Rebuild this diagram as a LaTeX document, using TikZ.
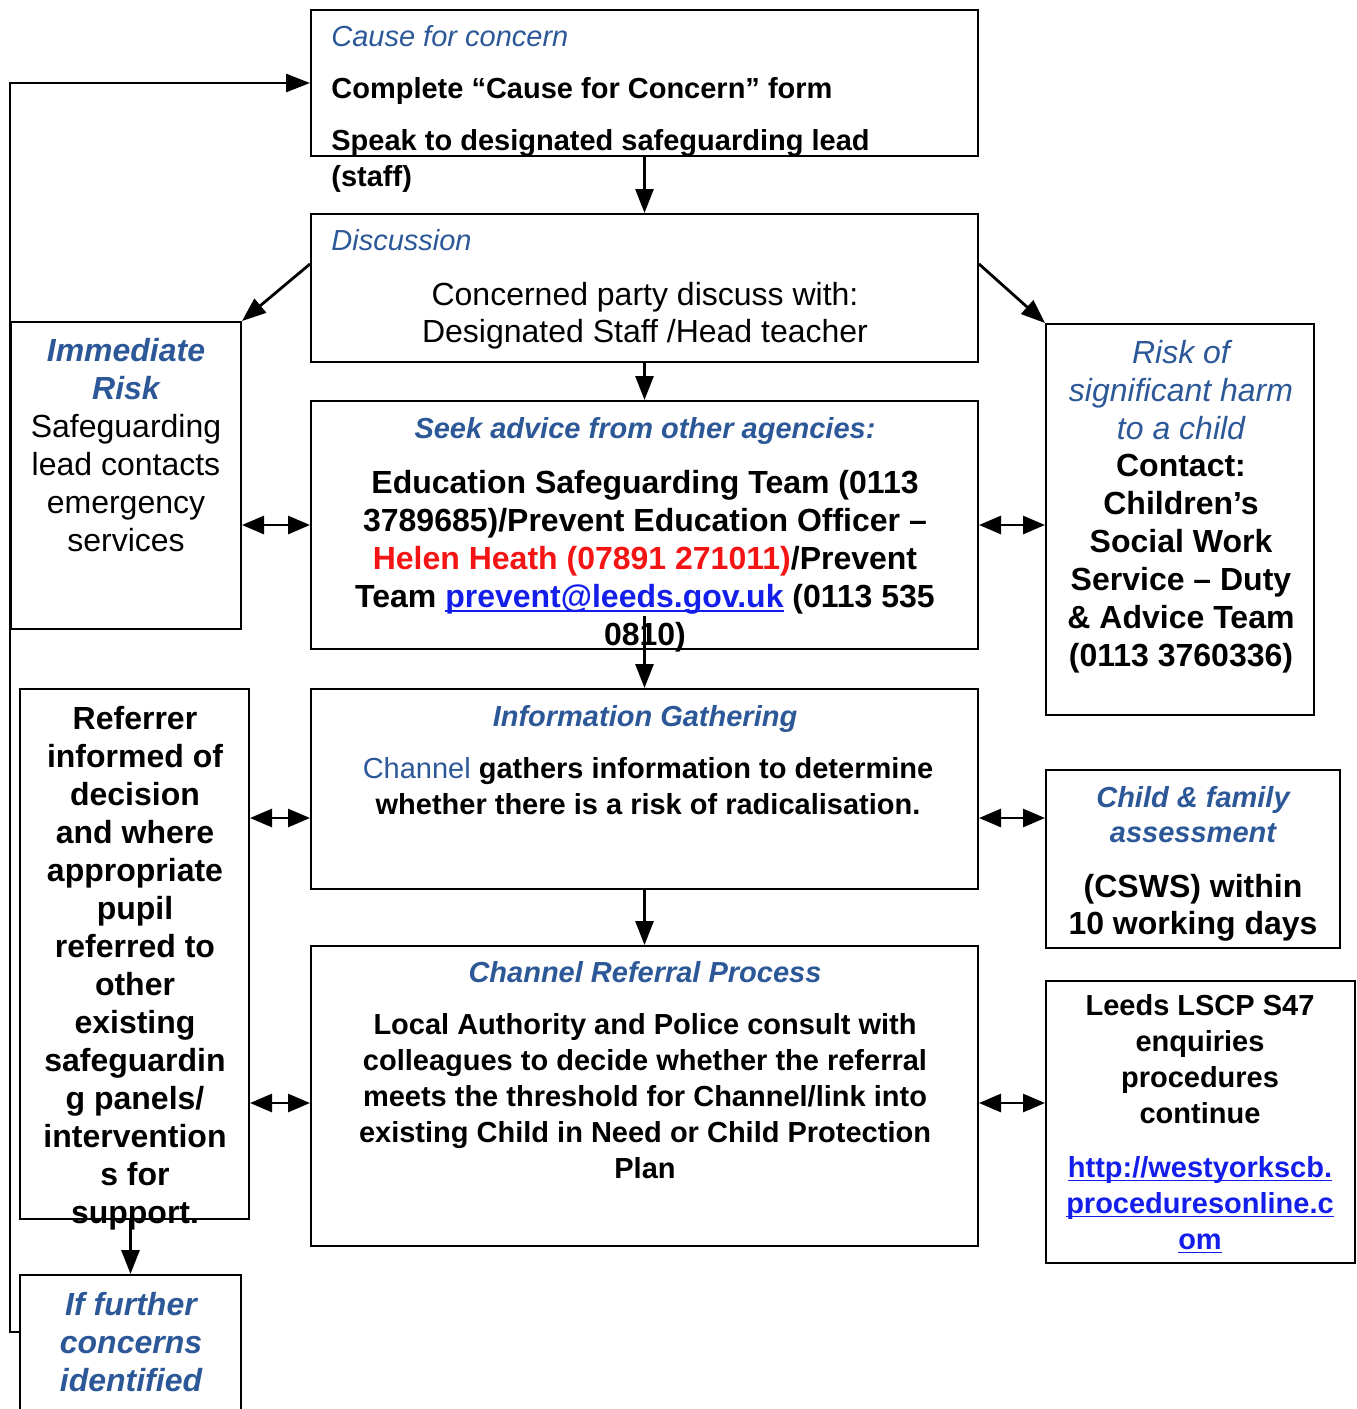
\documentclass[tikz,border=0pt]{standalone}
\usepackage{fontspec}
\setmainfont{Liberation Sans}
\usetikzlibrary{arrows.meta,fit}
\definecolor{headblue}{RGB}{44,88,152}
\definecolor{linkblue}{RGB}{20,30,235}
\definecolor{alertred}{RGB}{245,20,20}
\newcommand\weblink[1]{\setbox0\hbox{#1}\rlap{\rule[-2pt]{\wd0}{0.9pt}}\box0}

\begin{document}
\begin{tikzpicture}[x=0.5pt,y=-0.5pt,
    panel/.style={draw,line width=1pt,inner sep=0pt},
    flow/.style={line width=1.4pt,-{Triangle[length=12pt,width=9pt]}},
    dflow/.style={line width=1.4pt,{Triangle[length=11pt,width=9pt]}-{Triangle[length=11pt,width=9pt]}},
    txt/.style={inner sep=0pt,align=center,anchor=north},
    bigf/.style={txt,font=\fontsize{16}{19}\selectfont #1},
    bigf/.default={},
    smf/.style={txt,font=\fontsize{14.5}{18}\selectfont #1},
    smf/.default={}]
  \clip (0,0) rectangle (1356,1409);

  % boxes
  \node[panel,fit={(311,10) (978,156)}] (cause) {};
  \node[panel,fit={(311,214) (978,362)}] (disc) {};
  \node[panel,fit={(311,401) (978,649)}] (seek) {};
  \node[panel,fit={(311,689) (978,889)}] (info) {};
  \node[panel,fit={(311,946) (978,1246)}] (chan) {};
  \node[panel,fit={(11,322) (241,629)}] (immed) {};
  \node[panel,fit={(1046,324) (1314,715)}] (risk) {};
  \node[panel,fit={(20,689) (249,1219)}] (refer) {};
  \node[panel,fit={(20,1275) (241,1430)}] (further) {};
  \node[panel,fit={(1046,770) (1340,948)}] (child) {};
  \node[panel,fit={(1046,981) (1355,1263)}] (leeds) {};

  % texts
  \node[smf=\itshape,anchor=north west,text=headblue] (causehead) at (331,25) {Cause for concern};
  \node[smf=\bfseries,anchor=north west] (causeform) at (331,77) {Complete “Cause for Concern” form};
  \node[smf=\bfseries,anchor=north west,align=left] (causelead) at (331,129) {Speak to designated safeguarding lead\\(staff)};

  \node[smf=\itshape,anchor=north west,text=headblue] (dischead) at (331,229) {Discussion};
  \node[bigf,font=\fontsize{16}{18.5}\selectfont] (discbody) at (645,282) {Concerned party discuss with:\\Designated Staff /Head teacher};

  \node[smf=\bfseries\itshape,text=headblue] (seekhead) at (645,417) {Seek advice from other agencies:};
  \node[bigf=\bfseries] (seekbody) at (645,470) {Education Safeguarding Team (0113\\3789685)/Prevent Education Officer –\\{\color{alertred}Helen Heath (07891 271011)}/Prevent\\Team {\color{linkblue}\weblink{prevent@leeds.gov.uk}} (0113 535\\0810)};

  \node[smf=\bfseries\itshape,text=headblue] (infohead) at (645,705) {Information Gathering};
  \node[smf=\bfseries] (infobody) at (648,757) {{\color{headblue}\mdseries Channel} gathers information to determine\\whether there is a risk of radicalisation.};

  \node[smf=\bfseries\itshape,text=headblue] (chanhead) at (645,961) {Channel Referral Process};
  \node[smf=\bfseries] (chanbody) at (645,1013) {Local Authority and Police consult with\\colleagues to decide whether the referral\\meets the threshold for Channel/link into\\existing Child in Need or Child Protection\\Plan};

  \node[bigf=\bfseries\itshape,text=headblue] (immedhead) at (126,338) {Immediate\\Risk};
  \node[bigf] (immedbody) at (126,414) {Safeguarding\\lead contacts\\emergency\\services};

  \node[bigf=\itshape,text=headblue] (riskhead) at (1181,340) {Risk of\\significant harm\\to a child};
  \node[bigf=\bfseries] (riskbody) at (1181,454) {Contact:\\Children’s\\Social Work\\Service – Duty\\\& Advice Team\\(0113 3760336)};

  \node[bigf=\bfseries] (referbody) at (135,706) {Referrer\\informed of\\decision\\and where\\appropriate\\pupil\\referred to\\other\\existing\\safeguardin\\g panels/\\intervention\\s for\\support.};

  \node[bigf=\bfseries\itshape,text=headblue] (furtherbody) at (131,1292) {If further\\concerns\\identified};

  \node[smf=\bfseries\itshape,text=headblue,font=\fontsize{14.5}{17.5}\selectfont\bfseries\itshape] (childhead) at (1193,786) {Child \& family\\assessment};
  \node[bigf=\bfseries,font=\fontsize{16}{18.5}\selectfont\bfseries] (childbody) at (1193,874) {(CSWS) within\\10 working days};

  \node[smf=\bfseries] (leedsbody) at (1200,994) {Leeds LSCP S47\\enquiries\\procedures\\continue};
  \node[smf=\bfseries,text=linkblue] (leedslink) at (1200,1156) {\weblink{http://westyorkscb.}\\\weblink{proceduresonline.c}\\\weblink{om}};

  % connectors
  \draw[flow] (cause) -- (disc);
  \draw[flow] (disc) -- (seek);
  \draw[flow] ([yshift=-25.5pt]disc.north west) -- (immed.north east);
  \draw[flow] ([yshift=-25.5pt]disc.north east) -- (risk.north west);
  \draw[dflow] (immed.east |- seek.west) -- (seek.west);
  \draw[dflow] (seek.east) -- (risk.west |- seek.east);
  \draw[flow] ([yshift=17pt]seek.south) -- (info);
  \draw[dflow] (refer.east |- 0,818) -- ([yshift=-14.5pt]info.west);
  \draw[dflow] ([yshift=-14.5pt]info.east) -- (child.west |- 0,818);
  \draw[flow] (info) -- (chan);
  \draw[dflow] (refer.east |- 0,1103) -- ([yshift=-3.5pt]chan.west);
  \draw[dflow] ([yshift=-3.5pt]chan.east) -- (leeds.west |- 0,1103);
  \draw[flow] (further.north |- refer.south) -- (further.north);
  \draw[flow] ([yshift=-29pt]further.north west) -| (immed.west |- cause.west) -- (cause.west);
\end{tikzpicture}
\end{document}
